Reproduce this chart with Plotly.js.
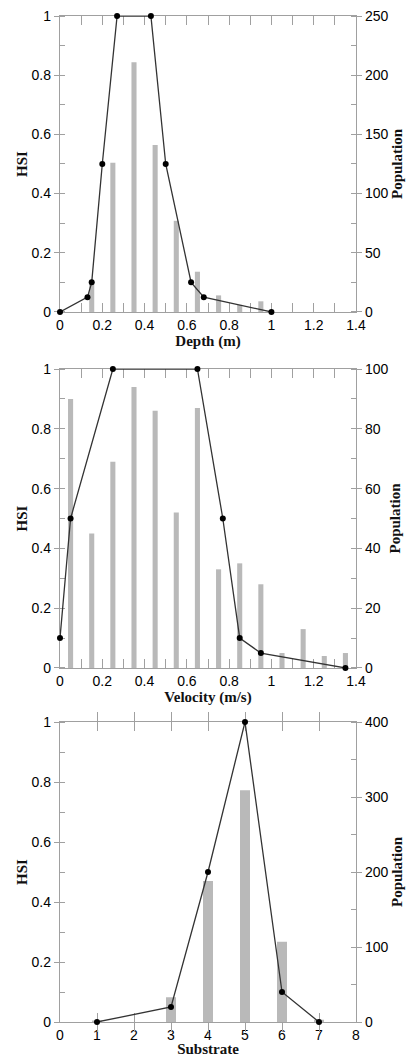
<!DOCTYPE html>
<html>
<head>
<meta charset="utf-8">
<script src="https://cdn.plot.ly/plotly-3.0.1.min.js"></script>
<style>html,body{margin:0;padding:0;background:#fff;}#chart{width:406px;height:1057px;}</style>
</head>
<body>
<div id="chart"></div>
<script>
// Depth panel
const depthBins = [0.15, 0.25, 0.35, 0.45, 0.55, 0.65, 0.75, 0.85, 0.95];
const depthPop  = [24, 126, 211, 141, 77, 34, 14, 6, 9];
const depthHSIx = [0, 0.13, 0.15, 0.2, 0.27, 0.43, 0.5, 0.62, 0.68, 1.0];
const depthHSIy = [0, 0.05, 0.1, 0.5, 1, 1, 0.5, 0.1, 0.05, 0];

// Velocity panel
const velBins = [0.05, 0.15, 0.25, 0.35, 0.45, 0.55, 0.65, 0.75, 0.85, 0.95, 1.05, 1.15, 1.25, 1.35];
const velPop  = [90, 45, 69, 94, 86, 52, 87, 33, 35, 28, 5, 13, 4, 5];
const velHSIx = [0, 0.05, 0.25, 0.65, 0.77, 0.85, 0.95, 1.35];
const velHSIy = [0.1, 0.5, 1, 1, 0.5, 0.1, 0.05, 0];

// Substrate panel
const subBins = [1, 3, 4, 5, 6, 7];
const subPop  = [2, 33, 188, 309, 107, 3];
const subHSIx = [1, 3, 4, 5, 6, 7];
const subHSIy = [0, 0.05, 0.5, 1, 0.1, 0];

const xTitles = ['Depth (m)', 'Velocity (m/s)', 'Substrate'];

const barColor = '#b9b9b9';
const lineColor = '#333333';
const axColor = '#a0a0a0';
const tickFont = {family: 'Liberation Sans, Arial, sans-serif', size: 14, color: '#000'};
const titleFont = {family: 'Liberation Serif, Times New Roman, serif', size: 15, color: '#111', weight: 'bold'};

function barTrace(x, y, w, xa, ya) {
  return {type: 'bar', x: x, y: y, width: w, xaxis: xa, yaxis: ya,
    marker: {color: barColor, line: {width: 0}}, hoverinfo: 'skip', showlegend: false};
}
function lineTrace(x, y, xa, ya) {
  return {type: 'scatter', mode: 'lines+markers', x: x, y: y, xaxis: xa, yaxis: ya,
    cliponaxis: false,
    line: {color: lineColor, width: 1.3}, marker: {color: '#000', size: 6},
    hoverinfo: 'skip', showlegend: false};
}

const data = [
  barTrace(depthBins, depthPop, 0.024, 'x', 'y'),
  lineTrace(depthHSIx, depthHSIy, 'x', 'y2'),
  barTrace(velBins, velPop, 0.024, 'x2', 'y3'),
  lineTrace(velHSIx, velHSIy, 'x2', 'y4'),
  barTrace(subBins, subPop, 0.27, 'x3', 'y5'),
  lineTrace(subHSIx, subHSIy, 'x3', 'y6')
];

function xAxis(range, dtick, minor, anchor, title) {
  return {
    range: range, dtick: dtick, tick0: 0, anchor: anchor, layer: 'below traces',
    showline: true, linecolor: axColor, linewidth: 1.2, mirror: 'allticks',
    ticks: 'inside', ticklen: 9, tickcolor: axColor, tickwidth: 1,
    minor: minor ? {dtick: minor, ticks: 'inside', ticklen: 5, tickcolor: axColor} : undefined,
    showgrid: false, zeroline: false, tickfont: tickFont,
    title: {text: title, font: titleFont, standoff: 2}
  };
}
function popAxis(range, dtick, minor, anchor, domain) {
  return {
    domain: domain, range: range, dtick: dtick, tick0: 0, anchor: anchor, side: 'right',
    layer: 'below traces',
    showline: true, linecolor: axColor, linewidth: 1.2,
    ticks: 'outside', ticklen: 5, tickcolor: axColor,
    minor: {dtick: minor, ticks: 'inside', ticklen: 5, tickcolor: axColor},
    showgrid: false, zeroline: false, tickfont: tickFont,
    title: {text: 'Population', font: titleFont, standoff: 2}
  };
}
function hsiAxis(over, anchor) {
  return {
    overlaying: over, side: 'left', anchor: anchor, range: [0, 1], dtick: 0.2, tick0: 0,
    layer: 'below traces',
    showline: true, linecolor: axColor, linewidth: 1.2,
    ticks: 'outside', ticklen: 5, tickcolor: axColor,
    minor: {dtick: 0.1, ticks: 'inside', ticklen: 5, tickcolor: axColor},
    showgrid: false, zeroline: false, tickfont: tickFont,
    title: {text: 'HSI', font: titleFont, standoff: 0}
  };
}

const layout = {
  width: 406, height: 1057,
  margin: {l: 60, r: 50, t: 16, b: 35},
  paper_bgcolor: '#fff', plot_bgcolor: '#fff',
  barmode: 'overlay', showlegend: false,
  xaxis: xAxis([0, 1.4], 0.2, 0.1, 'y', xTitles[0]),
  yaxis: popAxis([0, 250], 50, 25, 'x', [0.7058, 1]),
  yaxis2: hsiAxis('y', 'x'),
  xaxis2: xAxis([0, 1.4], 0.2, 0.1, 'y3', xTitles[1]),
  yaxis3: popAxis([0, 100], 20, 10, 'x2', [0.3519, 0.6491]),
  yaxis4: hsiAxis('y3', 'x2'),
  xaxis3: xAxis([0, 8], 1, null, 'y5', xTitles[2]),
  yaxis5: popAxis([0, 400], 100, 50, 'x3', [0, 0.2982]),
  yaxis6: hsiAxis('y5', 'x3')
};

Plotly.newPlot('chart', data, layout, {staticPlot: true, displayModeBar: false});
</script>
</body>
</html>
